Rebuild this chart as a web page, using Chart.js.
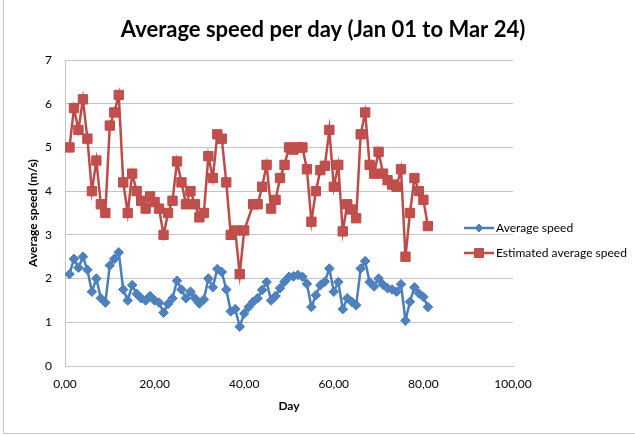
<!DOCTYPE html>
<html>
<head>
<meta charset="utf-8">
<script src="https://cdn.jsdelivr.net/npm/chart.js@4"></script>
<style>
  html, body { margin: 0; padding: 0; background: #fff; }
  #wrap { width: 635px; height: 435px; position: relative; }
</style>
</head>
<body>
<div id="wrap"><canvas id="speedChart" width="635" height="435"></canvas></div>
<script>
const titleText = "Average speed per day (Jan 01 to Mar 24)";
const xTitle = "Day";
const yTitle = "Average speed (m/s)";
const seriesNames = ["Average speed", "Estimated average speed"];

const days = [
  1, 2, 3, 4, 5, 6, 7, 8, 9, 10, 11, 12, 13, 14, 15, 16, 17, 18, 19, 20,
  21, 22, 23, 24, 25, 26, 27, 28, 29, 30, 31, 32, 33, 34, 35, 36, 37, 38, 39, 40,
  41, 42, 43, 44, 45, 46, 47, 48, 49, 50, 51, 52, 53, 54, 55, 56, 57, 58, 59, 60,
  61, 62, 63, 64, 65, 66, 67, 68, 69, 70, 71, 72, 73, 74, 75, 76, 77, 78, 79, 80, 81
];

const avgSpeed = [
  2.1, 2.45, 2.25, 2.5, 2.2, 1.7, 2.0, 1.55, 1.45, 2.3, 2.45, 2.6, 1.75, 1.5, 1.85, 1.65, 1.55, 1.5, 1.6, 1.5,
  1.45, 1.22, 1.42, 1.55, 1.95, 1.75, 1.55, 1.7, 1.55, 1.43, 1.52, 2.0, 1.8, 2.22, 2.15, 1.75, 1.25, 1.3, 0.9, 1.2,
  1.35, 1.47, 1.55, 1.74, 1.92, 1.5, 1.6, 1.78, 1.93, 2.04, 2.05, 2.08, 2.04, 1.88, 1.35, 1.62, 1.85, 1.93, 2.23, 1.7,
  1.92, 1.3, 1.55, 1.47, 1.39, 2.23, 2.4, 1.92, 1.82, 2.0, 1.86, 1.78, 1.75, 1.7, 1.87, 1.04, 1.47, 1.8, 1.66, 1.58, 1.35
];

const estSpeed = [
  5.0, 5.9, 5.4, 6.1, 5.2, 4.0, 4.7, 3.7, 3.5, 5.5, 5.8, 6.2, 4.2, 3.5, 4.4, 4.0, 3.78, 3.6, 3.88, 3.75,
  3.6, 3.0, 3.5, 3.78, 4.68, 4.2, 3.7, 4.0, 3.7, 3.4, 3.5, 4.8, 4.3, 5.3, 5.2, 4.2, 3.0, 3.1, 2.1, 3.1,
  null, 3.7, 3.7, 4.1, 4.6, 3.6, 3.8, 4.3, 4.6, 5.0, 4.95, 5.0, 5.0, 4.5, 3.3, 4.0, 4.48, 4.58, 5.4, 4.1,
  4.6, 3.08, 3.7, 3.58, 3.38, 5.3, 5.8, 4.6, 4.4, 4.9, 4.4, 4.25, 4.15, 4.1, 4.5, 2.5, 3.5, 4.3, 4.0, 3.8, 3.2
];

const font = "Lato, 'Open Sans', sans-serif";
const gridColor = "#c4c4c4";

function pairs(values) {
  return days.map((d, i) => ({ x: d, y: values[i] }));
}

// title, legend and frame are painted by hand so they sit where Excel put them
const decor = {
  id: "decor",
  afterDraw(chart) {
    const ctx = chart.ctx;
    ctx.save();

    ctx.strokeStyle = "#c8c8c8";
    ctx.lineWidth = 1;
    ctx.beginPath();
    ctx.moveTo(3.5, 0);
    ctx.lineTo(3.5, 433.5);
    ctx.lineTo(635, 433.5);
    ctx.stroke();

    ctx.fillStyle = "#000";
    ctx.font = "bold 22px " + font;
    ctx.textAlign = "center";
    ctx.textBaseline = "middle";
    ctx.fillText(titleText, 323, 30);

    ctx.font = "12px " + font;
    ctx.textAlign = "left";
    chart.data.datasets.forEach((ds, i) => {
      const y = 228 + i * 25;
      ctx.strokeStyle = ds.borderColor;
      ctx.lineWidth = 2.5;
      ctx.beginPath();
      ctx.moveTo(464, y);
      ctx.lineTo(494, y);
      ctx.stroke();
      ctx.fillStyle = ds.pointBackgroundColor;
      ctx.strokeStyle = ds.pointBorderColor;
      ctx.lineWidth = 1;
      ctx.beginPath();
      if (ds.pointStyle === "rect") {
        ctx.rect(474.5, y - 4.5, 9, 9);
      } else {
        ctx.moveTo(479, y - 4);
        ctx.lineTo(483, y);
        ctx.lineTo(479, y + 4);
        ctx.lineTo(475, y);
        ctx.closePath();
      }
      ctx.fill();
      ctx.stroke();
      ctx.fillStyle = "#000";
      ctx.fillText(ds.label, 496, y);
    });
    ctx.restore();
  }
};

new Chart(document.getElementById("speedChart").getContext("2d"), {
  type: "scatter",
  data: {
    datasets: [
      {
        label: seriesNames[0],
        data: pairs(avgSpeed),
        showLine: true,
        borderColor: "#4a7ebb",
        borderWidth: 2.5,
        pointStyle: "rectRot",
        pointRadius: 4.8,
        pointBackgroundColor: "#4f81bd",
        pointBorderColor: "#4a7ebb",
        pointBorderWidth: 1,
        tension: 0
      },
      {
        label: seriesNames[1],
        data: pairs(estSpeed),
        showLine: true,
        spanGaps: true,
        borderColor: "#be4b48",
        borderWidth: 2.5,
        pointStyle: "rect",
        pointRadius: 6.6,
        pointBackgroundColor: "#c0504d",
        pointBorderColor: "#be4b48",
        pointBorderWidth: 1,
        tension: 0
      }
    ]
  },
  options: {
    responsive: false,
    animation: false,
    events: [],
    layout: { padding: { left: 0, right: 122, top: 60, bottom: 0 } },
    plugins: {
      legend: { display: false },
      title: { display: false },
      tooltip: { enabled: false }
    },
    scales: {
      x: {
        type: "linear",
        min: 0,
        max: 100,
        afterFit(scale) { scale.height = 69; },
        grid: { display: false, drawTicks: false },
        border: { display: true, color: gridColor, width: 1 },
        ticks: {
          stepSize: 20,
          padding: 11,
          color: "#000",
          font: { family: font, size: 12 },
          maxRotation: 0,
          callback: v => v.toFixed(2).replace(".", ",")
        },
        title: {
          display: true,
          text: xTitle,
          color: "#000",
          font: { family: font, size: 12, weight: "bold" },
          padding: { top: 0, bottom: 22 }
        }
      },
      y: {
        min: 0,
        max: 7,
        afterFit(scale) { scale.width = 65; },
        grid: { color: gridColor, drawTicks: false, lineWidth: 1 },
        border: { display: true, color: gridColor, width: 1 },
        ticks: {
          stepSize: 1,
          padding: 13,
          color: "#000",
          font: { family: font, size: 12 }
        },
        title: {
          display: true,
          text: yTitle,
          color: "#000",
          font: { family: font, size: 12, weight: "bold" },
          padding: { top: 26, bottom: 0 }
        }
      }
    }
  },
  plugins: [decor]
});
</script>
</body>
</html>
